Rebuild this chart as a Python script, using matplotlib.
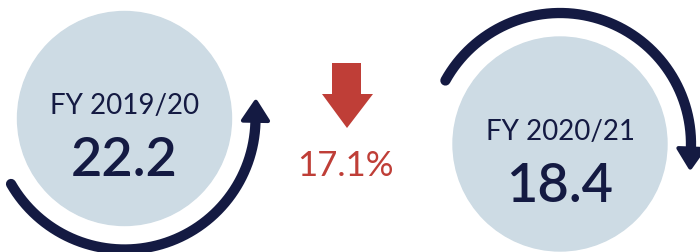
import numpy as np
import matplotlib
matplotlib.use('Agg')
import matplotlib.pyplot as plt
from matplotlib.patches import Circle, Polygon

years = ['FY 2019/20', 'FY 2020/21']
values = [22.2, 18.4]
change_pct = 17.1

navy = '#141a42'
pale = '#cddbe4'
red = '#bf3e37'

fig = plt.figure(figsize=(7, 2.53), dpi=100)
ax = fig.add_axes([0, 0, 1, 1])
ax.set_xlim(0, 700)
ax.set_ylim(253, 0)
ax.set_aspect('equal')
ax.axis('off')

# circle centres and arc layout (image pixel coords, y down)
centres = [(124.5, 119.5), (560, 145)]
arcs = [(210, 359), (151, -2)]   # start / end angle in degrees
r_circle = 107
r_arc = 131


def arrow_arc(cx, cy, t0, t1):
    t = np.radians(np.linspace(t0, t1, 200))
    xs = cx + r_arc * np.cos(t)
    ys = cy - r_arc * np.sin(t)
    ax.plot(xs, ys, color=navy, lw=7.4, solid_capstyle='round', zorder=3)
    # head at the end, along the tangent
    te = t[-1]
    sgn = 1 if t1 > t0 else -1
    dx, dy = -np.sin(te) * sgn, -np.cos(te) * sgn
    nx, ny = -dy, dx
    bx, by = xs[-1], ys[-1]
    head = Polygon([(bx + nx * 12.5, by + ny * 12.5),
                    (bx - nx * 12.5, by - ny * 12.5),
                    (bx + dx * 19, by + dy * 19)],
                   closed=True, color=navy, lw=3, joinstyle='round', zorder=4)
    ax.add_patch(head)


for (cx, cy), (t0, t1), yr, v in zip(centres, arcs, years, values):
    ax.add_patch(Circle((cx, cy), r_circle, color=pale, zorder=1))
    arrow_arc(cx, cy, t0, t1)
    ax.text(cx, cy - 5, yr, ha='center', va='baseline', fontsize=20,
            family='Lato', color=navy, zorder=5)
    ax.text(cx, cy + 57, f'{v:.1f}', ha='center', va='baseline', fontsize=39,
            family='Lato', fontweight='semibold', color=navy, zorder=5)

# red down arrow
ax.add_patch(Polygon([(332, 64), (361, 64), (361, 95), (373, 95), (347, 129),
                      (322, 95), (332, 95)], closed=True, color=red, lw=0))
ax.text(345, 176, f'{change_pct}%', ha='center', va='baseline', fontsize=25,
        family='Lato', fontweight='normal', color=red)

fig.savefig('out.png', dpi=100)
